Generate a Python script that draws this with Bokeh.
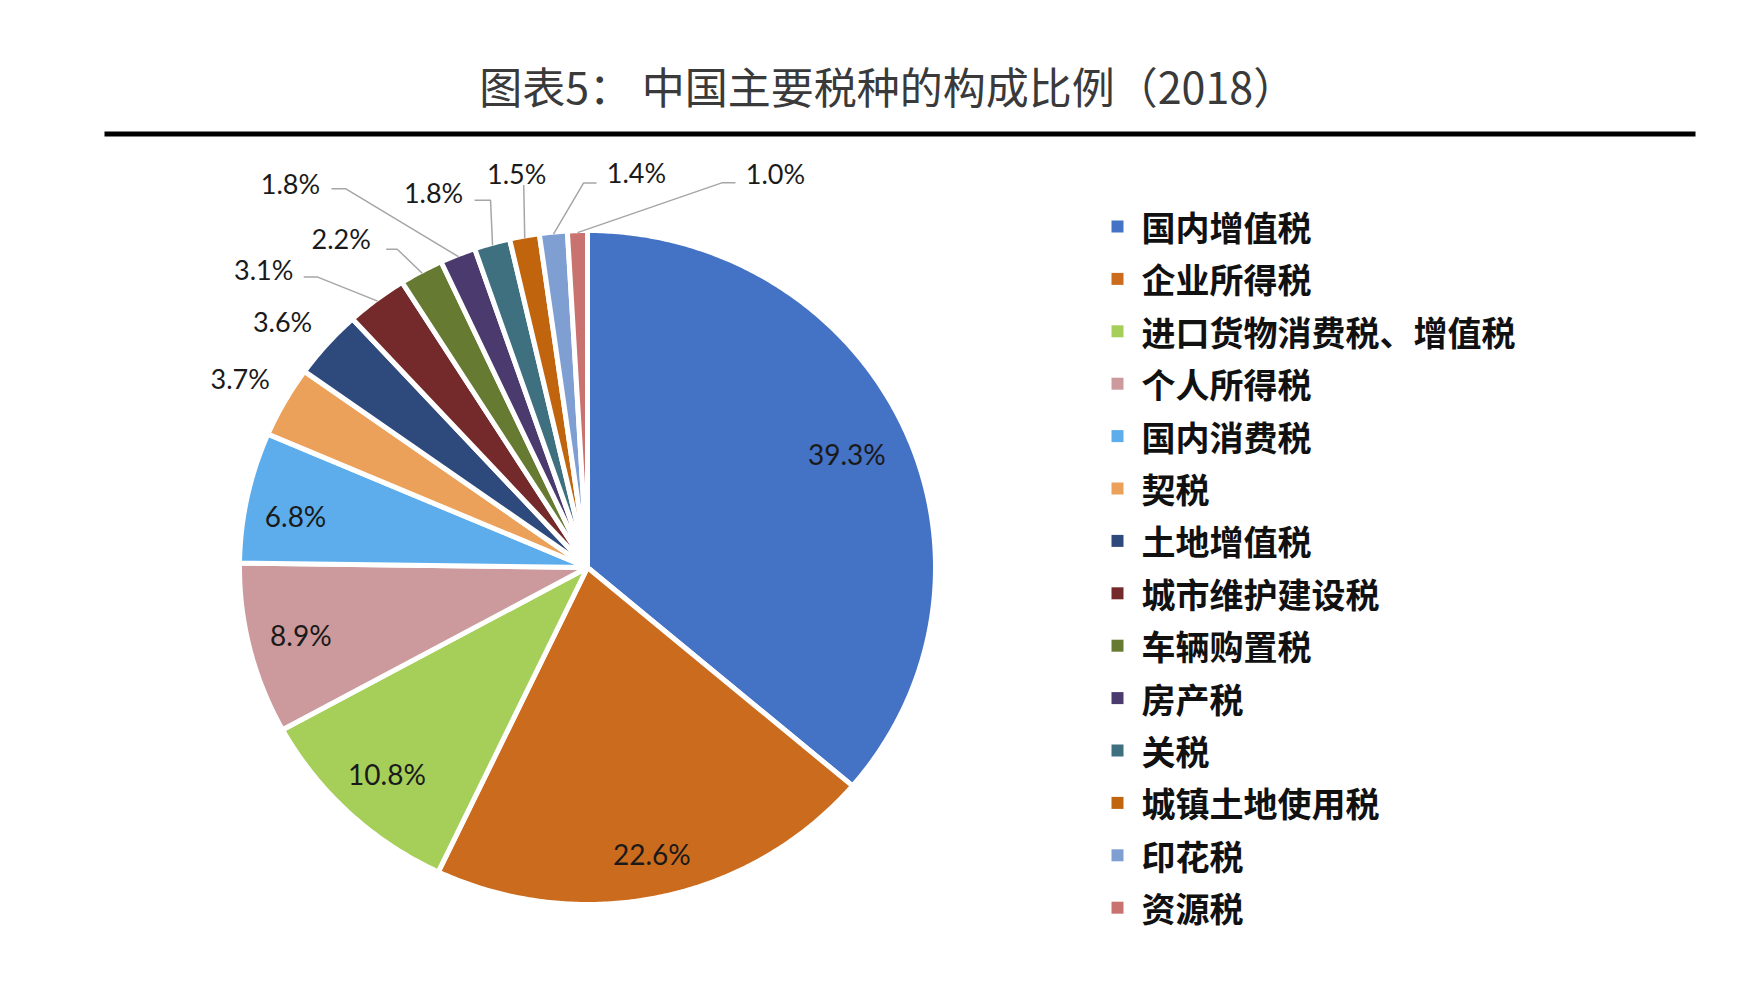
import numpy as np
from bokeh.plotting import figure
from bokeh.models import Range1d
from bokeh.embed import file_html
from bokeh.resources import INLINE
from bokeh.core.properties import value

# ---------------- data ----------------
title_text = "图表5：  中国主要税种的构成比例（2018）"
categories = ["国内增值税", "企业所得税", "进口货物消费税、增值税", "个人所得税", "国内消费税",
              "契税", "土地增值税", "城市维护建设税", "车辆购置税", "房产税", "关税",
              "城镇土地使用税", "印花税", "资源税"]
shares = [39.3, 22.6, 10.8, 8.9, 6.8, 3.7, 3.6, 3.1, 2.2, 1.8, 1.8, 1.5, 1.4, 1.0]
label_texts = [f"{v:.1f}%" for v in shares]

# ---------------- style / layout ----------------
colors = ["#4472C4", "#CB6B1E", "#A6CF5A", "#CC9A9C", "#5DADEC", "#EBA15A", "#2E4A7D",
          "#74292B", "#677A31", "#4A3A6E", "#3E7080", "#C0650E", "#7F9FD3", "#C97371"]
n_inside = 5
# fine nudges for inside labels (pixels)
inside_nudge = [(-6, 5), (3, 10), (0, 0), (-3, -1), (-6, 7)]
# outside label centre offsets relative to slice-edge anchor (pixels)
outside_offsets = [(-46, -24), (-46, -24), (-114, -32), (-81, -35), (-168, -73),
                   (-59, -53), (-8, -65), (83, -62), (198, -59)]
# leader path (relative to label centre): points from label edge to elbow, or None
leader_paths = [None, None,
                [(40, 8), (54, 8)],
                [(45, 11), (56, 11)],
                [(41, 5), (55, 5)],
                [(41, 8), (57, 8)],
                [(7, 12)],
                [(-40, 11), (-53, 11)],
                [(-40, 9), (-53, 9)]]

W, H = 1749, 992
CX, CY = 587, 567
RX, RY = 348, 337           # drawn radii (white border eats ~2.5px)
RXV, RYV = 346, 335         # visible radii
INSIDE_F = 0.845

p = figure(width=W, height=H, x_range=Range1d(0, W), y_range=Range1d(H, 0),
           output_backend="svg", toolbar_location=None, min_border=0,
           x_axis_location=None, y_axis_location=None)
p.grid.visible = False
p.outline_line_color = None
p.background_fill_color = "white"
p.border_fill_color = "white"

# ---------------- title ----------------
p.text(x=[892], y=[84], text=[title_text], text_font=value("Noto Sans CJK SC"),
       text_font_size="43px", text_color="#3a3a3a", text_align="center", text_baseline="middle")
p.segment(x0=[104], y0=[133.5], x1=[1695], y1=[133.5], line_width=5, line_color="black")

# ---------------- pie ----------------
total = float(sum(shares))
cum = np.concatenate([[0.0], np.cumsum(shares)]) / total * 2 * np.pi
xs, ys = [], []
for a0, a1 in zip(cum[:-1], cum[1:]):
    npts = max(int(np.degrees(a1 - a0) * 2), 2) + 1
    t = np.linspace(a0, a1, npts)
    xs.append([CX] + list(CX + RX * np.sin(t)))
    ys.append([CY] + list(CY - RY * np.cos(t)))
p.patches(xs, ys, fill_color=colors, line_color="white", line_width=5, line_join="round")

mid = (cum[:-1] + cum[1:]) / 2

# inside labels
ix = [CX + RXV * INSIDE_F * np.sin(m) + inside_nudge[i][0] for i, m in enumerate(mid[:n_inside])]
iy = [CY - RYV * INSIDE_F * np.cos(m) + inside_nudge[i][1] for i, m in enumerate(mid[:n_inside])]
p.text(x=ix, y=iy, text=label_texts[:n_inside], text_font=value("Lato"), text_font_size="28px",
       text_color="#1a1a1a", text_align="center", text_baseline="middle")

# outside labels + leaders
ox, oy, otext = [], [], []
lx, ly = [], []
for k, i in enumerate(range(n_inside, len(shares))):
    ax = CX + RXV * np.sin(mid[i])
    ay = CY - RYV * np.cos(mid[i])
    cx = ax + outside_offsets[k][0]
    cy = ay + outside_offsets[k][1]
    ox.append(cx); oy.append(cy); otext.append(label_texts[i])
    path = leader_paths[k]
    if path is not None:
        px = [cx + d[0] for d in path] + [ax]
        py = [cy + d[1] for d in path] + [ay]
        lx.append(px); ly.append(py)
p.multi_line(lx, ly, line_color="#a6a6a6", line_width=1.5)
p.text(x=ox, y=oy, text=otext, text_font=value("Lato"), text_font_size="27px",
       text_color="#1a1a1a", text_align="center", text_baseline="middle")

# ---------------- legend ----------------
LEG_X, LEG_Y0, LEG_DY = 1117, 226, 52.4
leg_y = [LEG_Y0 + i * LEG_DY for i in range(len(categories))]
p.rect(x=[LEG_X] * len(categories), y=leg_y, width=12, height=12, fill_color=colors, line_color=None)
p.text(x=[LEG_X + 24] * len(categories), y=leg_y, text=categories, text_font=value("Noto Sans CJK SC"),
       text_font_size="34px", text_font_style="bold", text_color="#111111",
       text_align="left", text_baseline="middle")

open("out.html", "w", encoding="utf-8").write(file_html(p, INLINE))
